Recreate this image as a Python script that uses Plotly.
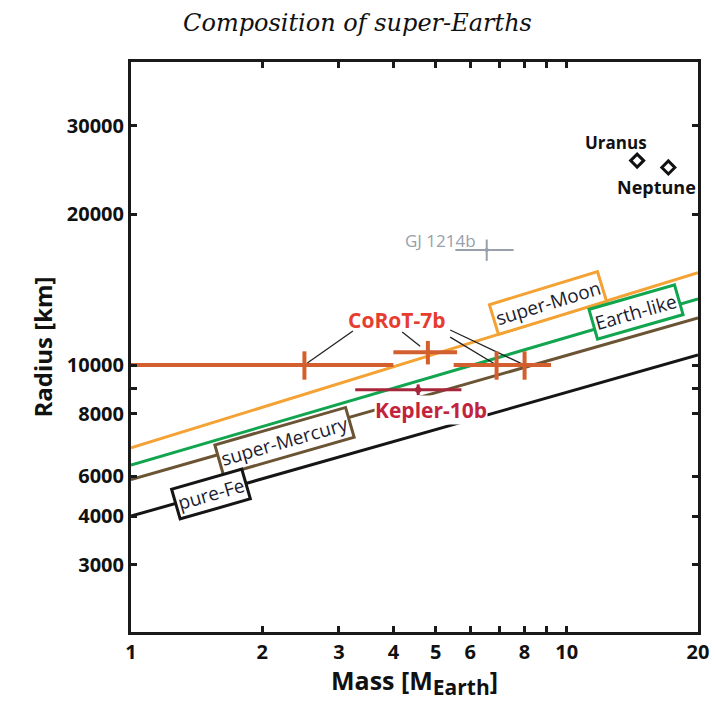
import numpy as np
import plotly.graph_objects as go

# Mass-radius relations for model compositions (mass in Earth masses, radius in km)
model_mass = [1, 20]
r_super_moon = [6840, 15280]
r_earth_like = [6320, 13540]
r_super_mercury = [5915, 12410]
r_pure_fe = [5000, 10470]

# CoRoT-7b mass estimates from several studies
corot_mass = [2.5, 4.8, 6.9, 8.0]
corot_mass_err = [1.5, 0.8, 1.4, 1.2]
corot_radius = [10000, 10600, 10000, 10000]
corot_radius_err = [650, 570, 650, 650]

# Kepler-10b
kepler_mass = [4.56]
kepler_mass_plus = [1.17]
kepler_mass_minus = [1.29]
kepler_radius = [8930]
kepler_radius_err = [220]

# GJ 1214b
gj_mass = [6.55]
gj_mass_err = [1.0]
gj_radius = [16960]
gj_radius_err = [830]

# Ice giants
giant_names = ["Uranus", "Neptune"]
giant_mass = [14.5, 17.1]
giant_radius = [25560, 24760]

# Axis ticks
x_tickvals = [1, 2, 3, 4, 5, 6, 8, 10, 20]
x_ticktext = ["1", "2", "3", "4", "5", "6", "8", "10", "20"]
x_minor_ticks = [7, 9]
y_tickvals = [4000, 5000, 6000, 8000, 10000, 20000, 30000]
y_ticktext = ["3000", "4000", "6000", "8000", "10000", "20000", "30000"]
y_minor_ticks = [9000]

C_MOON = "#F4A233"
C_EARTH = "#12A54F"
C_MERC = "#6B5434"
C_FE = "#151515"
C_COROT = "#D35F2E"
C_COROT_TXT = "#E53D30"
C_KEP = "#A7263A"
C_KEP_TXT = "#C4233D"
C_GJ = "#97A0AB"
TXT = "#1C1C30"

lg = np.log10
fig = go.Figure()

for radii, col in [(r_super_moon, C_MOON), (r_earth_like, C_EARTH),
                   (r_super_mercury, C_MERC), (r_pure_fe, C_FE)]:
    fig.add_trace(go.Scatter(x=model_mass, y=radii, mode="lines",
                             line=dict(color=col, width=3), hoverinfo="skip"))

# Leader lines from the CoRoT-7b label to each estimate
label_anchor = [(3.23, 11690), (4.19, 11637), (5.40, 11370), (5.40, 11745)]
lead_x, lead_y = [], []
for (mx, ry), (tx, ty), shrink in zip(zip(corot_mass, corot_radius), label_anchor,
                                      [0.06, 0.3, 0.02, 0.02]):
    # stop the line a little short of the point
    ex = 10 ** (lg(mx) + (lg(tx) - lg(mx)) * shrink)
    ey = 10 ** (lg(ry) + (lg(ty) - lg(ry)) * shrink)
    lead_x += [tx, ex, None]
    lead_y += [ty, ey, None]
fig.add_trace(go.Scatter(x=lead_x, y=lead_y, mode="lines",
                         line=dict(color="#222222", width=1.3), hoverinfo="skip"))

fig.add_trace(go.Scatter(
    x=gj_mass, y=gj_radius, mode="markers",
    marker=dict(color=C_GJ, size=4),
    error_x=dict(type="data", array=gj_mass_err, color=C_GJ, thickness=2, width=0),
    error_y=dict(type="data", array=gj_radius_err, color=C_GJ, thickness=2, width=0)))

fig.add_trace(go.Scatter(
    x=kepler_mass, y=kepler_radius, mode="markers",
    marker=dict(color=C_KEP, size=7, symbol="diamond"),
    error_x=dict(type="data", array=kepler_mass_plus, arrayminus=kepler_mass_minus,
                 color=C_KEP, thickness=3, width=0),
    error_y=dict(type="data", array=kepler_radius_err, color=C_KEP, thickness=3, width=0)))

fig.add_trace(go.Scatter(
    x=corot_mass, y=corot_radius, mode="markers",
    marker=dict(color=C_COROT, size=2),
    error_x=dict(type="data", array=corot_mass_err, color=C_COROT, thickness=4, width=0),
    error_y=dict(type="data", array=corot_radius_err, color=C_COROT, thickness=4, width=0)))

fig.add_trace(go.Scatter(
    x=giant_mass, y=giant_radius, mode="markers",
    marker=dict(symbol="diamond-open", size=10, color="#111111",
                line=dict(width=3, color="#111111"))))

annotations = []

# Model labels sitting on their curves
for text, mx, ry, col, ang in [("super-Moon", 9.06, 13290, C_MOON, -17),
                               ("Earth-like", 14.41, 12760, C_EARTH, -16),
                               ("super-Mercury", 2.256, 7055, C_MERC, -16),
                               ("pure-Fe", 1.526, 5530, C_FE, -16)]:
    annotations.append(dict(x=lg(mx), y=lg(ry), text=text, showarrow=False,
                            textangle=ang, bgcolor="white", bordercolor=col,
                            borderwidth=3, borderpad=1,
                            font=dict(family="Open Sans", size=19, color=TXT)))

annotations.append(dict(x=lg(4.06), y=lg(12290), text="CoRoT-7b", showarrow=False,
                        font=dict(family="Open Sans", size=21, color=C_COROT_TXT,
                                  weight="bold")))
annotations.append(dict(x=lg(4.88), y=lg(8135), text="Kepler-10b", showarrow=False,
                        bgcolor="white", borderpad=0,
                        font=dict(family="Open Sans", size=21, color=C_KEP_TXT,
                                  weight="bold")))
annotations.append(dict(x=lg(5.12), y=lg(17740), text="GJ 1214b", showarrow=False,
                        font=dict(family="Open Sans", size=17, color=C_GJ)))
annotations.append(dict(x=lg(12.97), y=lg(27710), text=giant_names[0], showarrow=False,
                        font=dict(family="Open Sans", size=17, color="#111111",
                                  weight="bold")))
annotations.append(dict(x=lg(16.02), y=lg(22640), text=giant_names[1], showarrow=False,
                        font=dict(family="Open Sans", size=18, color="#111111",
                                  weight="bold")))

axis_common = dict(showline=True, linewidth=3, linecolor="#1a1a1a", mirror="ticks",
                   ticks="inside", ticklen=6, tickwidth=3, tickcolor="#1a1a1a",
                   showgrid=False, zeroline=False, automargin=False,
                   tickfont=dict(family="Open Sans", size=20, color="#111111",
                                 weight="bold"))

fig.update_layout(
    width=715, height=701,
    margin=dict(l=131, r=17, t=62, b=69),
    paper_bgcolor="white", plot_bgcolor="white",
    showlegend=False,
    title=dict(text="Composition of super-Earths", x=0.5, xanchor="center",
               y=0.968, yanchor="middle", automargin=False,
               font=dict(family="DejaVu Serif", size=24, style="italic", color="#111111")),
    xaxis=dict(type="log", range=[0, lg(20)], tickmode="array",
               tickvals=x_tickvals, ticktext=x_ticktext,
               minor=dict(tickmode="array", tickvals=x_minor_ticks, ticks="inside",
                          ticklen=6, tickwidth=3, tickcolor="#1a1a1a", showgrid=False),
               title=dict(text="Mass [M<sub><span style='font-size:21px'>Earth</span></sub>]",
                          standoff=10,
                          font=dict(family="Open Sans", size=25, color="#111111",
                                    weight="bold")),
               **axis_common),
    yaxis=dict(type="log", range=[3.468, 4.604], tickmode="array",
               tickvals=y_tickvals, ticktext=y_ticktext,
               minor=dict(tickmode="array", tickvals=y_minor_ticks, ticks="inside",
                          ticklen=6, tickwidth=3, tickcolor="#1a1a1a", showgrid=False),
               title=dict(text="Radius [km]", standoff=8,
                          font=dict(family="Open Sans", size=24, color="#111111",
                                    weight="bold")),
               **axis_common),
    annotations=annotations,
)

fig.write_html("out.html")
